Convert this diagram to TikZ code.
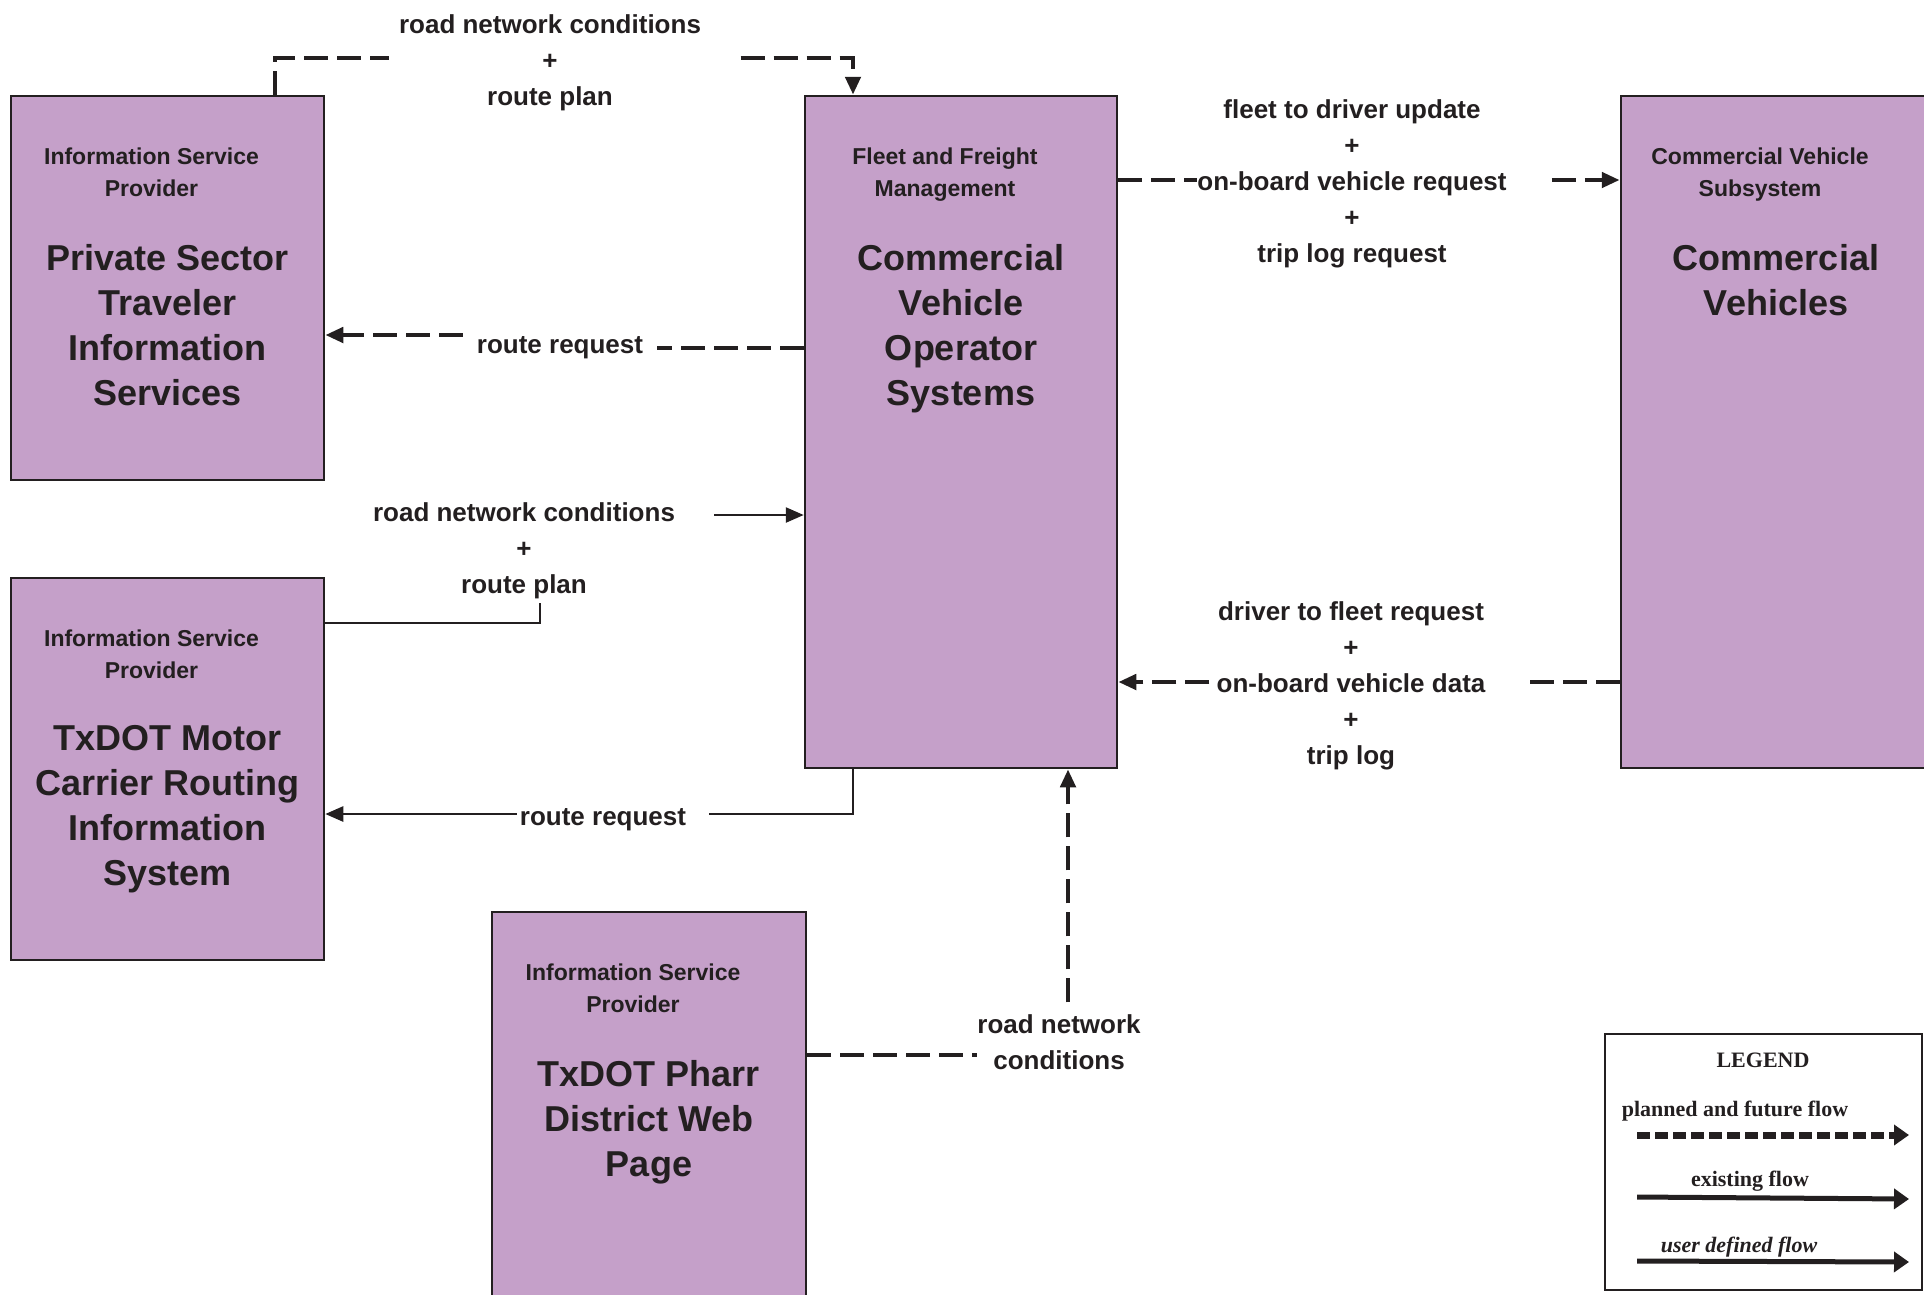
\documentclass[tikz,border=0pt]{standalone}
\usepackage{fontspec}
\setmainfont{Liberation Sans}
\newfontfamily\legendfont{Liberation Serif}
\usetikzlibrary{positioning,calc,arrows.meta}
\definecolor{sysfill}{RGB}{197,160,201}
\definecolor{ink}{RGB}{35,31,32}

\begin{document}
\begin{tikzpicture}[x=1pt,y=1pt]
    \tikzstyle{every node}=[inner sep=0,text=ink]
    \tikzstyle{sysbox}=[draw=ink,fill=sysfill,line width=2.5,rectangle]
    \tikzstyle{head}=[align=center,font=\fontsize{23}{32}\selectfont\bfseries,xshift=-16]
    \tikzstyle{sysname}=[align=center,font=\fontsize{36}{45}\selectfont\bfseries]
    \tikzstyle{flow}=[align=center,font=\fontsize{26}{36}\selectfont\bfseries]
    \tikzstyle{plan}=[draw=ink,line width=4.5,dash pattern=on 24pt off 9pt]
    \tikzstyle{exist}=[draw=ink,line width=2.5]
    \tikzstyle{tip}=[-{Triangle[length=18pt,width=15pt]}]
    \tikzstyle{lgtext}=[font=\legendfont\fontsize{22}{26}\selectfont\bfseries]
    {
        \useasboundingbox (0,0) rectangle (1924,-1294);

        % systems
        \node[sysbox,minimum width=313,minimum height=384] (ps) at (167.5,-288) {};
        \node[sysbox,minimum width=313,minimum height=382] (tmc) at (167.5,-769) {};
        \node[sysbox,minimum width=312,minimum height=672] (cvo) at (961,-432) {};
        \node[sysbox,minimum width=310,minimum height=672] (cv) at (1776,-432) {};
        \node[sysbox,minimum width=314,minimum height=390] (pharr) at (649,-1107) {};

        \node[head,below=53pt of ps.north] (psh) {Information Service\\Provider};
        \node[sysname,below=149pt of ps.north] (psn) {Private Sector\\Traveler\\Information\\Services};
        \node[head,below=53pt of tmc.north] (tmch) {Information Service\\Provider};
        \node[sysname,below=148pt of tmc.north] (tmcn) {TxDOT Motor\\Carrier Routing\\Information\\System};
        \node[head,below=53pt of cvo.north] (cvoh) {Fleet and Freight\\Management};
        \node[sysname,below=149pt of cvo.north] (cvon) {Commercial\\Vehicle\\Operator\\Systems};
        \node[head,below=53pt of cv.north] (cvh) {Commercial Vehicle\\Subsystem};
        \node[sysname,below=149pt of cv.north] (cvn) {Commercial\\Vehicles};
        \node[head,below=53pt of pharr.north] (pharrh) {Information Service\\Provider};
        \node[sysname,below=149pt of pharr.north] (pharrn) {TxDOT Pharr\\District Web\\Page};

        % flow labels
        \node[flow,minimum width=351] (l1) at (550,-63) {road network conditions\\+\\route plan};
        \node[flow,minimum width=194] (l2) at (560,-348) {route request};
        \node[flow] (l3) at (524,-551) {road network conditions\\+\\route plan};
        \node[flow,minimum width=192] (l4) at (603,-820) {route request};
        \node[flow,inner ysep=12] (l5) at (1059,-1042) {road network\\conditions};
        \node[flow] (l6) at (1352,-184) {fleet to driver update\\+\\on-board vehicle request\\+\\trip log request};
        \node[flow] (l7) at (1351,-686) {driver to fleet request\\+\\on-board vehicle data\\+\\trip log};

        % flows
        \draw[plan] ([xshift=107.5]ps.north) |- ([xshift=15,yshift=5]l1.west);
        \draw[plan,tip] ([xshift=15,yshift=5]l1.east) -| ([xshift=-108]cvo.north);
        \draw[plan] ([yshift=84]cvo.west) -- (l2.east);
        \draw[plan,tip] ([yshift=13]l2.west) -- ([yshift=-47]ps.east);
        \draw[exist] ([yshift=146]tmc.east) -| ([xshift=16,yshift=-4]l3.south);
        \draw[exist,tip] ([xshift=39,yshift=36]l3.east) -- ([yshift=-83]cvo.west);
        \draw[exist] ([xshift=-108]cvo.south) |- ([xshift=10,yshift=6]l4.east);
        \draw[exist,tip] ([xshift=10,yshift=6]l4.west) -- ([yshift=-45]tmc.east);
        \draw[plan] ([yshift=52]pharr.east) -- ([yshift=-13]l5.west);
        \draw[plan,tip] ([xshift=9]l5.north) -- ([xshift=107]cvo.south);
        \draw[plan] ([yshift=252]cvo.east) -- ([yshift=4]l6.west);
        \draw[plan,tip] ([xshift=45,yshift=4]l6.east) -- ([yshift=252]cv.west);
        \draw[plan] ([yshift=-250]cv.west) -- ([xshift=40,yshift=4]l7.east);
        \draw[plan,tip] ([xshift=-7,yshift=4]l7.west) -- ([yshift=-250]cvo.east);

        % legend
        \node[draw=ink,line width=2.5,minimum width=317,minimum height=256] (legend) at (1763.5,-1162) {};
        \node[lgtext] (lgt) at (1763,-1060) {LEGEND};
        \node[lgtext] (lgplan) at (1735,-1111) {planned and future flow};
        \node[lgtext] (lgexist) at (1750,-1181) {existing flow};
        \node[lgtext,font=\legendfont\fontsize{22}{26}\selectfont\bfseries\itshape] (lguser) at (1739,-1247) {user defined flow};
        \coordinate (pa) at (1637,-1135);
        \coordinate (pb) at (1909,-1135);
        \coordinate (ea) at (1637,-1197);
        \coordinate (eb) at (1909,-1199);
        \coordinate (ua) at (1637,-1261);
        \coordinate (ub) at (1909,-1262);
        \draw[draw=ink,line width=7,dash pattern=on 13pt off 5pt,-{Triangle[length=15pt,width=20pt]}] (pa) -- (pb);
        \draw[draw=ink,line width=5,-{Triangle[length=15pt,width=20pt]}] (ea) -- (eb);
        \draw[draw=ink,line width=5,-{Triangle[length=15pt,width=20pt]}] (ua) -- (ub);
    }
\end{tikzpicture}
\end{document}
